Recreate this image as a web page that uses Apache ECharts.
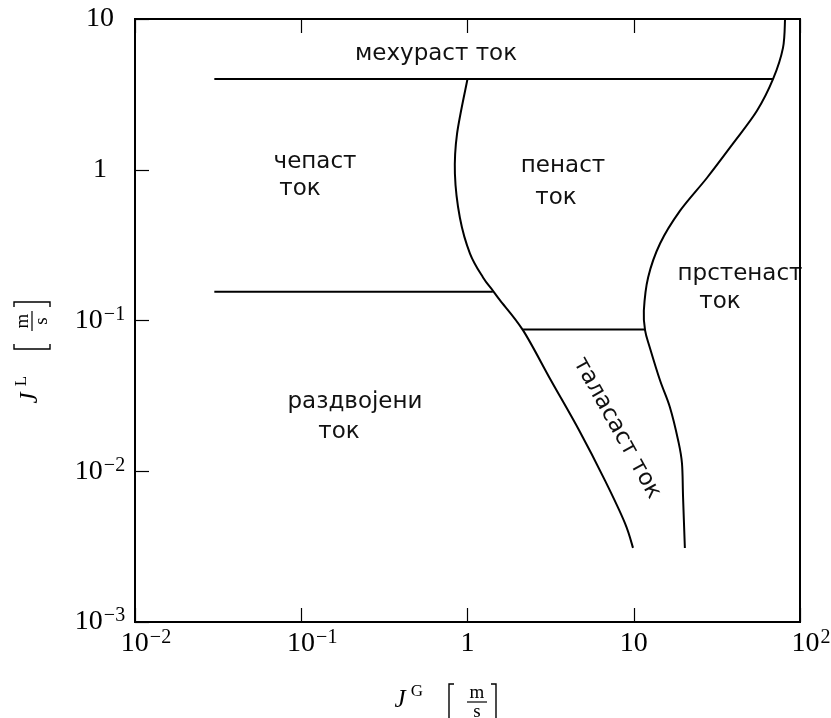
<!DOCTYPE html>
<html>
<head>
<meta charset="utf-8">
<script src="https://cdn.jsdelivr.net/npm/echarts@6/dist/echarts.min.js"></script>
<style>
  html, body { margin: 0; background: #fff; }
  #chart { width: 831px; height: 718px; }
</style>
</head>
<body>
<div id="chart"></div>
<script>
// tick values and labels (log axes)
const xTicks = [0.01, 0.1, 1, 10, 100]
const xTickLabels = ['10^−2', '10^−1', '1', '10', '10^2']
const yTicks = [0.001, 0.01, 0.1, 1, 10]
const yTickLabels = ['10^−3', '10^−2', '10^−1', '1', '10']

// boundary between froth and slug/stratified/wavy flow
const leftCurveX = [1.0, 0.865, 0.84, 0.90, 1.035, 1.24, 1.42, 1.57, 2.16, 3.18, 4.69, 6.71, 8.85, 9.9]
const leftCurveY = [4.0, 1.73, 0.94, 0.48, 0.278, 0.193, 0.158, 0.136, 0.086, 0.040, 0.0187, 0.0087, 0.00453, 0.0031]

// boundary of annular flow
const rightCurveX = [81.3, 79, 68.9, 55.1, 39.5, 27.6, 19.0, 14.4, 12.2, 11.5, 11.7, 12.5, 14.4, 16.5, 18.5, 19.5, 19.8, 20.3]
const rightCurveY = [10, 6.43, 4.0, 2.46, 1.49, 0.885, 0.535, 0.324, 0.193, 0.116, 0.086, 0.066, 0.040, 0.0266, 0.016, 0.0113, 0.0067, 0.0031]

// straight boundaries
const bubbleLineX = [0.03, 68.9]
const bubbleLineY = [4.0, 4.0]
const slugLineX = [0.03, 1.42]
const slugLineY = [0.155, 0.155]
const wavyLineX = [2.16, 11.7]
const wavyLineY = [0.087, 0.087]

const pairs = (xs, ys) => xs.map((x, i) => [x, ys[i]])

const serif = '"Liberation Serif"'
const sans = '"DejaVu Sans"'

function tickLabel(ticks, labels, value, pad) {
  let i = ticks.findIndex(t => Math.abs(Math.log10(t) - Math.log10(value)) < 1e-6)
  if (i < 0) return ''
  const parts = labels[i].split('^')
  if (parts.length === 1) return '{b|' + parts[0] + '}'
  return (pad ? '{p| }' : '') + '{b|' + parts[0] + '}{s|' + parts[1] + '}'
}

const richTicks = {
  b: { fontFamily: 'Liberation Serif', fontSize: 28, lineHeight: 32, color: '#000' },
  s: { fontFamily: 'Liberation Serif', fontSize: 20, lineHeight: 16, verticalAlign: 'top', color: '#000', padding: [0, 0, 0, 1] },
  p: { fontFamily: 'Liberation Serif', fontSize: 20, width: 22 }
}

const black = { color: '#000', width: 2 }

const lineSeries = (xs, ys) => ({
  type: 'line',
  data: pairs(xs, ys),
  showSymbol: false,
  symbol: 'none',
  lineStyle: { color: '#000', width: 2 },
  silent: true
})

// cubic path through the projected points (Catmull-Rom style tangents)
function splinePath(pts) {
  const n = pts.length
  let d = 'M' + pts[0][0] + ' ' + pts[0][1]
  for (let i = 0; i < n - 1; i++) {
    const p0 = pts[Math.max(i - 1, 0)], p1 = pts[i], p2 = pts[i + 1], p3 = pts[Math.min(i + 2, n - 1)]
    const c1 = [p1[0] + (p2[0] - p0[0]) / 6, p1[1] + (p2[1] - p0[1]) / 6]
    const c2 = [p2[0] - (p3[0] - p1[0]) / 6, p2[1] - (p3[1] - p1[1]) / 6]
    d += ' C' + c1.join(' ') + ' ' + c2.join(' ') + ' ' + p2.join(' ')
  }
  return d
}

const curveSeries = (xs, ys) => ({
  type: 'custom',
  coordinateSystem: 'cartesian2d',
  data: pairs(xs, ys),
  silent: true,
  renderItem: (params, api) => {
    if (params.dataIndex !== 0) return null
    const pts = pairs(xs, ys).map(p => api.coord(p))
    return {
      type: 'path',
      shape: { pathData: splinePath(pts) },
      style: { stroke: '#000', lineWidth: 2, fill: 'none' }
    }
  }
})

// axis title: J^sup [m/s], drawn relative to an origin
function axisTitle(sup, x, y, rotation) {
  const txt = (t, tx, ty, font) => ({
    type: 'text', x: tx, y: ty,
    style: { text: t, font: font, fill: '#000', align: 'center', verticalAlign: 'middle' }
  })
  return {
    type: 'group', x: x, y: y, rotation: rotation,
    children: [
      txt('J', -46, 0, 'italic 25px ' + serif),
      txt(sup, -29, -8, '17px ' + serif),
      { type: 'polyline', shape: { points: [[8, -16], [3, -16], [3, 20], [8, 20]] }, style: { stroke: '#000', lineWidth: 1.4, fill: null } },
      txt('m', 31, -7, '19px ' + serif),
      { type: 'line', shape: { x1: 21, y1: 2, x2: 41, y2: 2 }, style: { stroke: '#000', lineWidth: 1.2 } },
      txt('s', 31, 12, '19px ' + serif),
      { type: 'polyline', shape: { points: [[45, -16], [50, -16], [50, 20], [45, 20]] }, style: { stroke: '#000', lineWidth: 1.4, fill: null } }
    ]
  }
}

const regionText = (text, x, y, rotation) => ({
  type: 'text', x: x, y: y, rotation: rotation || 0, silent: true,
  style: { text: text, font: '23px ' + sans, fill: '#111', align: 'center', verticalAlign: 'middle' }
})

const chart = echarts.init(document.getElementById('chart'))

chart.setOption({
  animation: false,
  backgroundColor: '#fff',
  grid: {
    left: 135, right: 31, top: 19, bottom: 96,
    show: true, borderColor: '#000', borderWidth: 2,
    containLabel: false, outerBoundsMode: 'none'
  },
  xAxis: [{
    type: 'log', logBase: 10, min: 0.01, max: 100, position: 'bottom',
    axisLine: { show: true, lineStyle: black },
    axisTick: { show: true, inside: true, length: 14, lineStyle: { color: '#000', width: 1.2 } },
    minorTick: { show: false },
    splitLine: { show: false },
    axisLabel: {
      show: true, margin: 6, showMinLabel: true, showMaxLabel: true, verticalAlign: 'top',
      formatter: v => tickLabel(xTicks, xTickLabels, v, true),
      rich: richTicks
    }
  }, {
    type: 'log', logBase: 10, min: 0.01, max: 100, position: 'top',
    axisLine: { show: true, lineStyle: black },
    axisTick: { show: true, inside: true, length: 14, lineStyle: { color: '#000', width: 1.2 } },
    splitLine: { show: false },
    axisLabel: { show: false }
  }],
  yAxis: [{
    type: 'log', logBase: 10, min: 0.001, max: 10, position: 'left',
    axisLine: { show: true, lineStyle: black },
    axisTick: { show: true, inside: true, length: 14, lineStyle: { color: '#000', width: 1.2 } },
    minorTick: { show: false },
    splitLine: { show: false },
    axisLabel: {
      show: true, margin: 35, align: 'center', showMinLabel: true, showMaxLabel: true,
      formatter: v => tickLabel(yTicks, yTickLabels, v, false),
      rich: richTicks
    }
  }, {
    type: 'log', logBase: 10, min: 0.001, max: 10, position: 'right',
    axisLine: { show: true, lineStyle: black },
    axisTick: { show: false },
    splitLine: { show: false },
    axisLabel: { show: false }
  }],
  series: [
    lineSeries(bubbleLineX, bubbleLineY),
    lineSeries(slugLineX, slugLineY),
    lineSeries(wavyLineX, wavyLineY),
    curveSeries(leftCurveX, leftCurveY),
    curveSeries(rightCurveX, rightCurveY)
  ],
  graphic: [
    axisTitle('G', 446, 700, 0),
    axisTitle('L', 30, 352, Math.PI / 2),
    regionText('мехураст ток', 436, 54),
    regionText('чепаст', 315, 162),
    regionText('ток', 300, 189),
    regionText('пенаст', 563, 166),
    regionText('ток', 556, 198),
    regionText('прстенаст', 740, 274),
    regionText('ток', 720, 302),
    regionText('раздвојени', 355, 402),
    regionText('ток', 339, 432),
    regionText('таласаст ток', 617, 428, -61 * Math.PI / 180)
  ]
})
</script>
</body>
</html>
